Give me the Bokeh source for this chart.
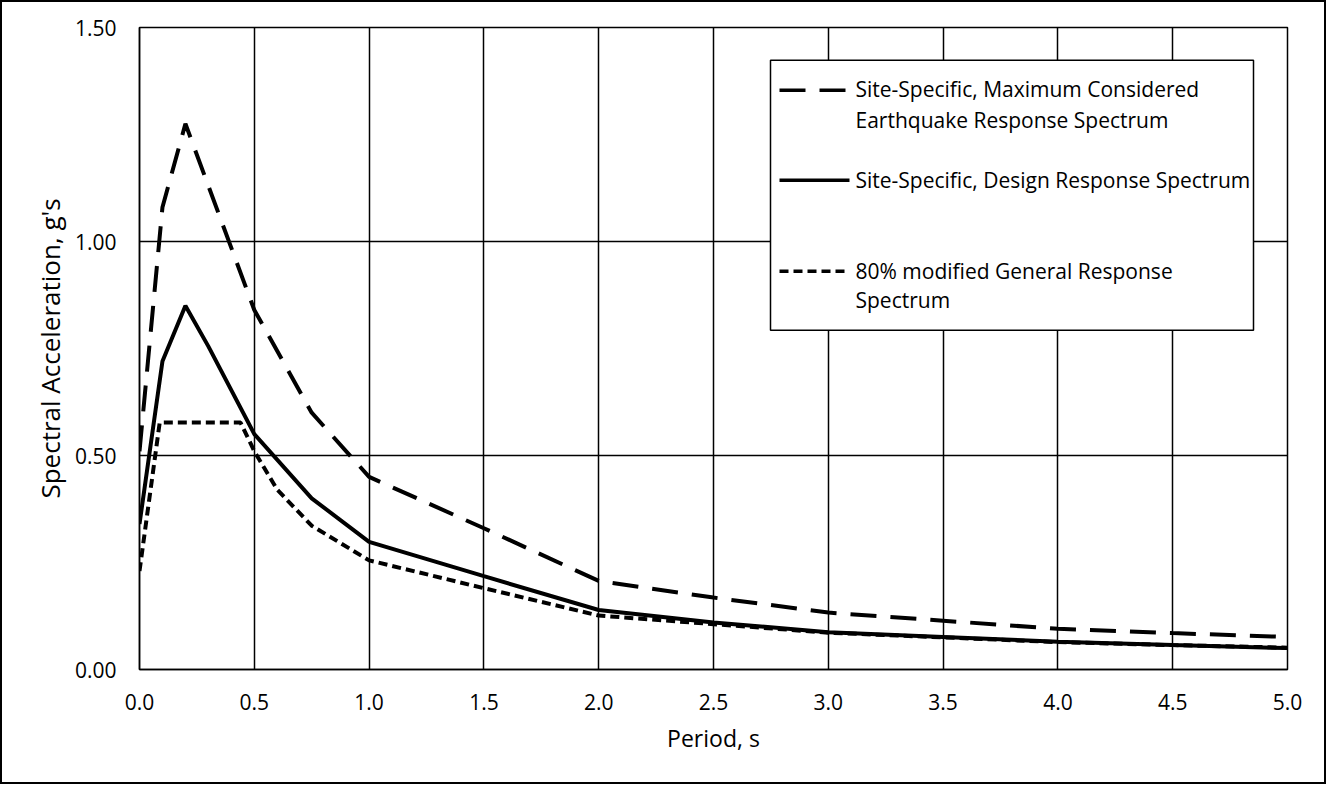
from bokeh.plotting import figure
from bokeh.models import Range1d, FixedTicker, NumeralTickFormatter, Label, BoxAnnotation
from bokeh.embed import file_html
from bokeh.resources import INLINE

# ---- data ----
period_mce = [0.0, 0.1, 0.2, 0.3, 0.5, 0.75, 1.0, 1.5, 2.0, 2.5, 3.0, 3.5, 4.0, 4.5, 5.0]
sa_mce = [0.51, 1.08, 1.275, 1.13, 0.84, 0.60, 0.45, 0.33, 0.207, 0.168, 0.133, 0.114, 0.095, 0.085, 0.076]

period_design = [0.0, 0.1, 0.2, 0.3, 0.5, 0.75, 1.0, 1.5, 2.0, 2.5, 3.0, 3.5, 4.0, 4.5, 5.0]
sa_design = [0.34, 0.72, 0.85, 0.755, 0.55, 0.40, 0.298, 0.218, 0.139, 0.11, 0.087, 0.076, 0.065, 0.057, 0.050]

period_general = [0.0, 0.088, 0.44, 0.5, 0.6, 0.75, 1.0, 1.5, 2.0, 2.5, 3.0, 3.5, 4.0, 4.5, 5.0]
sa_general = [0.23, 0.577, 0.577, 0.51, 0.42, 0.336, 0.255, 0.19, 0.126, 0.106, 0.086, 0.075, 0.064, 0.057, 0.051]

x_ticks = [0.0, 0.5, 1.0, 1.5, 2.0, 2.5, 3.0, 3.5, 4.0, 4.5, 5.0]
y_ticks = [0.0, 0.5, 1.0, 1.5]

legend_labels = [
    ["Site-Specific, Maximum Considered", "Earthquake Response Spectrum"],
    ["Site-Specific, Design Response Spectrum"],
    ["80% modified General Response", "Spectrum"],
]

FONT = "Open Sans"
FS = "21px"

p = figure(width=1326, height=784, output_backend="svg", toolbar_location=None,
           x_range=Range1d(0, 5), y_range=Range1d(0, 1.5),
           min_border_left=137, min_border_right=41, min_border_top=25, min_border_bottom=117)
p.styles = {"border": "2px solid black"}

p.outline_line_color = "black"
p.outline_line_width = 1.5
p.background_fill_color = "white"
p.border_fill_color = "white"

for g in (p.xgrid, p.ygrid):
    g.grid_line_color = "black"
    g.grid_line_width = 1.5
p.xgrid.ticker = FixedTicker(ticks=x_ticks)
p.ygrid.ticker = FixedTicker(ticks=y_ticks)

for ax in (p.xaxis, p.yaxis):
    ax.axis_line_color = "black"
    ax.axis_line_width = 1.5
    ax.major_tick_line_color = None
    ax.minor_tick_line_color = None
    ax.major_tick_out = 0
    ax.major_tick_in = 0
    ax.major_label_text_font = FONT
    ax.major_label_text_font_size = FS
    ax.major_label_text_color = "black"
    ax.axis_label_text_font = FONT
    ax.axis_label_text_font_style = "normal"
    ax.axis_label_text_color = "black"

p.xaxis.ticker = FixedTicker(ticks=x_ticks)
p.yaxis.ticker = FixedTicker(ticks=y_ticks)
p.xaxis.formatter = NumeralTickFormatter(format="0.0")
p.yaxis.formatter = NumeralTickFormatter(format="0.00")
p.xaxis.major_label_standoff = 24
p.yaxis.major_label_standoff = 23
p.xaxis.axis_label = "Period, s"
p.yaxis.axis_label = "Spectral Acceleration, g's"
p.xaxis.axis_label_text_font_size = "23px"
p.yaxis.axis_label_text_font_size = "26px"
p.xaxis.axis_label_standoff = 9
p.yaxis.axis_label_standoff = 4

LW = 4
p.line(period_mce, sa_mce, line_color="black", line_width=LW, line_dash="26 14")
p.line(period_design, sa_design, line_color="black", line_width=LW)
p.line(period_general, sa_general, line_color="black", line_width=LW, line_dash="9 5")

# ---- legend box (drawn by hand to match the reference layout) ----
x_px = lambda px: (px - 147) / 229.6
y_px = lambda py: (677 - py) / 427.8

p.add_layout(BoxAnnotation(left=x_px(778), right=x_px(1261), top=y_px(68), bottom=y_px(338),
                           fill_color="white", fill_alpha=1.0, line_color="black", line_alpha=1.0,
                           line_width=1.5, level="annotation"))

dashes = ["26 14", "solid", "9 5"]
sample_y = [98, 188, 279]
text_y = [[97, 128], [188], [279, 308]]
for dash, sy, lines, ty in zip(dashes, sample_y, legend_labels, text_y):
    p.line([x_px(787), x_px(857)], [y_px(sy), y_px(sy)], line_color="black", line_width=3.5,
           line_dash=dash, level="overlay")
    for txt, yy in zip(lines, ty):
        p.add_layout(Label(x=x_px(863), y=y_px(yy), text=txt, text_font=FONT, text_font_size=FS,
                           text_baseline="middle", text_align="left", text_color="black",
                           level="overlay"))

open("out.html", "w").write(file_html(p, INLINE))
